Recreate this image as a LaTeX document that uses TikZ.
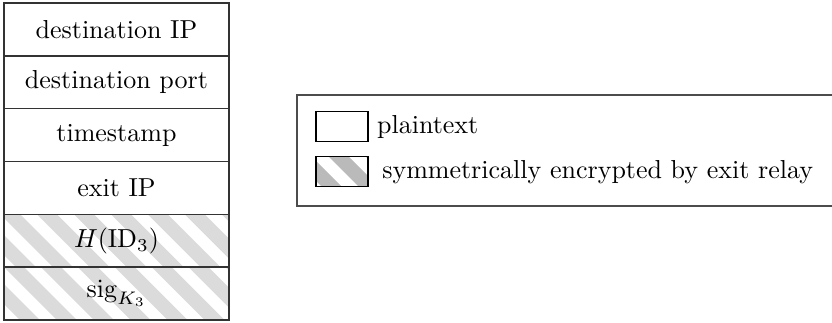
\documentclass[tikz,border=0pt]{standalone}
\usepackage{amsmath}
\usetikzlibrary{positioning,calc}

\colorlet{framecolor}{black!80}
\colorlet{stripecolor}{black!14}
\colorlet{keystripecolor}{black!27}

\tikzstyle{field} =[
    draw=framecolor,
    line width=0.6pt,
    rectangle,
    minimum width=86.5pt,
    minimum height=20.32pt,
    inner sep=0pt,
    outer sep=0pt
    ]
\tikzstyle{swatch} =[
    draw=black,
    line width=0.5pt,
    rectangle,
    minimum width=20pt,
    minimum height=11.5pt,
    inner sep=0pt,
    outer sep=0pt
    ]
\tikzstyle{legendbox} =[
    draw=black!70,
    line width=0.6pt,
    rectangle,
    minimum width=208.8pt,
    minimum height=42.7pt,
    inner sep=0pt,
    outer sep=0pt,
    anchor=north west
    ]
% grey diagonal bands: colour, offset of first band
\tikzset{stripes/.style 2 args={path picture={
    \foreach \k in {-4,...,8}
        \fill[#1] ($(path picture bounding box.north west)+(#2+\k*14.2pt,0)$)
            -- ++(7.7pt,0) -- ++(30pt,-30pt) -- ++(-7.7pt,0) -- cycle;
}}}

\begin{document}
\begin{tikzpicture}
\useasboundingbox (0,0) rectangle (320pt,-123.85pt);

% packet fields
\node[field, anchor=north west] (dstip) at (1.54pt,-1.15pt) {destination IP};
\node[field, below=0pt of dstip] (dstport) {destination port};
\node[field, below=0pt of dstport] (tstamp) {timestamp};
\node[field, below=0pt of tstamp] (exitip) {exit IP};
\node[field, stripes={stripecolor}{-1.5pt}, below=0pt of exitip] (hash) {$H(\mathrm{ID}_3)$};
\node[field, stripes={stripecolor}{0pt}, below=0pt of hash] (sig) {$\mathrm{sig}_{K_3}$};

% legend
\node[legendbox] (legend) at (114.2pt,-36.5pt) {};
\node[swatch, anchor=north west] (plain) at ($(legend.north west)+(7.3pt,-6.5pt)$) {};
\node[swatch, stripes={keystripecolor}{5pt}, below=5.8pt of plain] (enc) {};
\node[right=0pt of plain] (plainlabel) {plaintext};
\node[right=2pt of enc] (enclabel) {symmetrically encrypted by exit relay};
\end{tikzpicture}
\end{document}
